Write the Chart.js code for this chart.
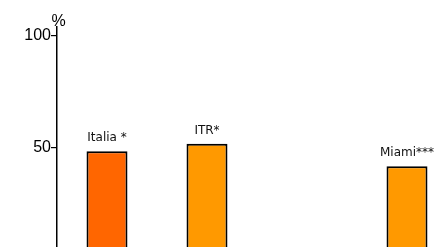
<!DOCTYPE html>
<html>
<head>
<meta charset="utf-8">
<script src="https://cdn.jsdelivr.net/npm/chart.js@4/dist/chart.umd.min.js"></script>
<style>
  html, body { margin: 0; padding: 0; background: #fff; overflow: hidden; }
  #wrap { width: 457px; height: 270px; }
</style>
</head>
<body>
<div id="wrap"><canvas id="chart" width="457" height="270"></canvas></div>
<script>
const categories = ['Italia *', 'ITR*', '', 'Miami***'];
const values = [48.5, 51.8, null, 41.8];
const barColors = ['#ff6600', '#ff9900', '#ff9900', '#ff9900'];
const yTicks = [50, 100];
const yUnit = '%';

// labels above each bar
const barLabels = {
    id: 'barLabels',
    afterDatasetsDraw(chart) {
        const ctx = chart.ctx;
        const meta = chart.getDatasetMeta(0);
        ctx.save();
        ctx.font = '12px "DejaVu Sans"';
        ctx.fillStyle = '#111';
        ctx.textAlign = 'center';
        ctx.textBaseline = 'alphabetic';
        meta.data.forEach((bar, i) => {
            if (values[i] == null) return;
            ctx.fillText(categories[i], bar.x, bar.y - 10);
        });
        ctx.restore();
    }
};

// unit text at the top of the y axis
const unitLabel = {
    id: 'unitLabel',
    afterDraw(chart) {
        const y = chart.scales.y;
        const ctx = chart.ctx;
        ctx.save();
        ctx.font = '16px "Liberation Sans"';
        ctx.fillStyle = '#000';
        ctx.textAlign = 'center';
        ctx.textBaseline = 'middle';
        ctx.fillText(yUnit, y.right + 1.5, y.top - 5);
        ctx.restore();
    }
};

new Chart(document.getElementById('chart').getContext('2d'), {
    type: 'bar',
    data: {
        labels: categories,
        datasets: [{
            data: values,
            backgroundColor: barColors,
            borderColor: '#000',
            borderWidth: 2,
            borderSkipped: false,
            categoryPercentage: 1,
            barPercentage: 0.41
        }]
    },
    options: {
        responsive: false,
        animation: false,
        layout: { padding: { top: 27, left: 0, right: 0, bottom: 0 } },
        plugins: {
            legend: { display: false },
            tooltip: { enabled: false }
        },
        scales: {
            x: { display: false },
            y: {
                min: 0,
                max: 103.6,
                afterBuildTicks: (scale) => {
                    scale.ticks = yTicks.map(v => ({ value: v }));
                },
                afterFit: (scale) => { scale.width = 57; },
                border: { color: '#000', width: 1.5 },
                grid: { drawOnChartArea: false, tickLength: 6, color: '#000', lineWidth: 1.2 },
                ticks: {
                    padding: 0,
                    color: '#000',
                    font: { family: 'Liberation Sans', size: 16 }
                }
            }
        }
    },
    plugins: [barLabels, unitLabel]
});
</script>
</body>
</html>
